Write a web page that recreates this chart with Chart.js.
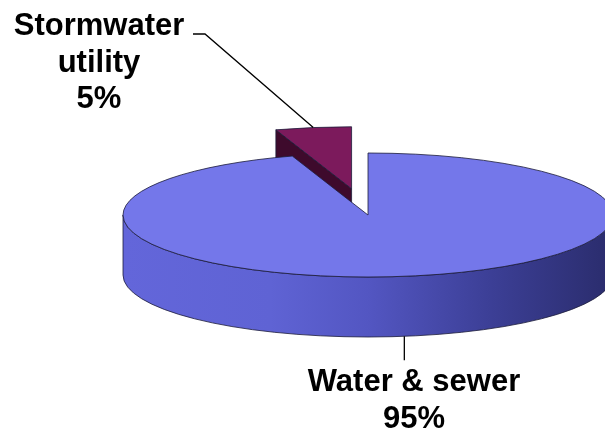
<!doctype html>
<html>
<head>
    <title>Stormwater utility vs water & sewer</title>
    <script src="https://cdn.jsdelivr.net/npm/chart.js@4/dist/chart.umd.min.js"></script>
    <style>
    body { margin: 0; background: #fff; }
    #container { width: 605px; height: 431px; }
    </style>
</head>
<body>
    <div id="container">
        <canvas id="canvas"></canvas>
    </div>
    <script>
        // data
        var labels = ['Water & sewer', ['Stormwater', 'utility']];
        var shares = [95, 5];
        var topColors = ['#7477ea', '#7c1a5c'];
        var faceColors = ['#3a3d9a', '#3e0a2c'];
        var explode = [0, 76];

        // where the flat pie gets projected (tilted view)
        var view = { cx: 368, cy: 215, rx: 245, ry: 62, depth: 60 };

        function sliceGeom(chart, arc) {
            var R = arc.outerRadius;
            var sx = view.rx / R, sy = view.ry / R;
            var mid = (arc.startAngle + arc.endAngle) / 2;
            var off = arc.options.offset || 0;
            return {
                x: view.cx + Math.cos(mid) * off * sx,
                y: view.cy + Math.sin(mid) * off * sy,
                a0: arc.startAngle,
                a1: arc.endAngle,
                mid: mid
            };
        }

        function pt(g, a, dy) {
            return { x: g.x + view.rx * Math.cos(a), y: g.y + view.ry * Math.sin(a) + (dy || 0) };
        }

        var pie3d = {
            id: 'pie3d',
            beforeDatasetsDraw: function(chart) {
                var ctx = chart.ctx;
                var arcs = chart.getDatasetMeta(0).data;
                // back slice first (the exploded one), then the big one
                var order = arcs.map(function(a, i) { return i; }).sort(function(a, b) {
                    return (arcs[b].options.offset || 0) - (arcs[a].options.offset || 0);
                });
                ctx.save();
                ctx.lineWidth = 0.8;
                ctx.strokeStyle = '#1c1c3a';
                ctx.lineJoin = 'round';
                order.forEach(function(i) {
                    var g = sliceGeom(chart, arcs[i]);
                    var d = view.depth;

                    // radial faces
                    [[g.a0, -1], [g.a1, 1]].forEach(function(e) {
                        var n = e[0] + e[1] * Math.PI / 2;
                        if (Math.sin(n) <= 0.01) return;
                        var p = pt(g, e[0]);
                        ctx.beginPath();
                        ctx.moveTo(g.x, g.y);
                        ctx.lineTo(p.x, p.y);
                        ctx.lineTo(p.x, p.y + d);
                        ctx.lineTo(g.x, g.y + d);
                        ctx.closePath();
                        ctx.fillStyle = faceColors[i];
                        ctx.fill();
                        ctx.stroke();
                    });

                    // outer wall, front half only
                    var lo = Math.max(g.a0, 0), hi = Math.min(g.a1, Math.PI);
                    if (hi > lo) {
                        var grad = ctx.createLinearGradient(g.x - view.rx, 0, g.x + view.rx, 0);
                        if (i === 0) {
                            grad.addColorStop(0, '#6366da');
                            grad.addColorStop(0.3, '#5f63d4');
                            grad.addColorStop(0.5, '#5356c2');
                            grad.addColorStop(0.75, '#3c3f96');
                            grad.addColorStop(1, '#2a2c6c');
                        } else {
                            grad.addColorStop(0, faceColors[i]);
                            grad.addColorStop(1, faceColors[i]);
                        }
                        ctx.beginPath();
                        ctx.ellipse(g.x, g.y, view.rx, view.ry, 0, lo, hi);
                        ctx.ellipse(g.x, g.y + d, view.rx, view.ry, 0, hi, lo, true);
                        ctx.closePath();
                        ctx.fillStyle = grad;
                        ctx.fill();
                        ctx.stroke();
                    }

                    // top face
                    ctx.beginPath();
                    ctx.moveTo(g.x, g.y);
                    ctx.ellipse(g.x, g.y, view.rx, view.ry, 0, g.a0, g.a1);
                    ctx.closePath();
                    ctx.fillStyle = topColors[i];
                    ctx.fill();
                    ctx.stroke();
                });
                ctx.restore();
                return false;
            },
            afterDraw: function(chart) {
                var ctx = chart.ctx;
                var arcs = chart.getDatasetMeta(0).data;
                ctx.save();
                ctx.font = 'bold 31px "Liberation Sans", Arial, sans-serif';
                ctx.fillStyle = '#000';
                ctx.textAlign = 'center';
                ctx.strokeStyle = '#000';
                ctx.lineWidth = 1.3;

                // water & sewer: label under the pie
                var g0 = sliceGeom(chart, arcs[0]);
                var p0 = pt(g0, g0.mid, view.depth);
                ctx.beginPath();
                ctx.moveTo(p0.x - 2, p0.y);
                ctx.lineTo(p0.x - 2, p0.y + 24);
                ctx.stroke();
                var l0 = [].concat(labels[0], shares[0] + '%');
                l0.forEach(function(t, k) {
                    ctx.fillText(t, 414, 391 + k * 37);
                });

                // stormwater: label top left
                var g1 = sliceGeom(chart, arcs[1]);
                var p1 = pt(g1, g1.mid);
                ctx.beginPath();
                ctx.moveTo(193, 34);
                ctx.lineTo(205, 34);
                ctx.lineTo(p1.x, p1.y);
                ctx.stroke();
                var l1 = [].concat(labels[1], shares[1] + '%');
                l1.forEach(function(t, k) {
                    ctx.fillText(t, 99, 35 + k * 36.5);
                });
                ctx.restore();
            }
        };

        window.onload = function() {
            var ctx = document.getElementById('canvas').getContext('2d');
            window.myPie = new Chart(ctx, {
                type: 'pie',
                data: {
                    labels: labels,
                    datasets: [{
                        data: shares,
                        backgroundColor: topColors,
                        borderWidth: 0,
                        offset: explode
                    }]
                },
                options: {
                    responsive: true,
                    maintainAspectRatio: false,
                    animation: false,
                    layout: { padding: 0 },
                    plugins: {
                        legend: { display: false },
                        tooltip: { enabled: false }
                    }
                },
                plugins: [pie3d]
            });
        };
    </script>
</body>
</html>
